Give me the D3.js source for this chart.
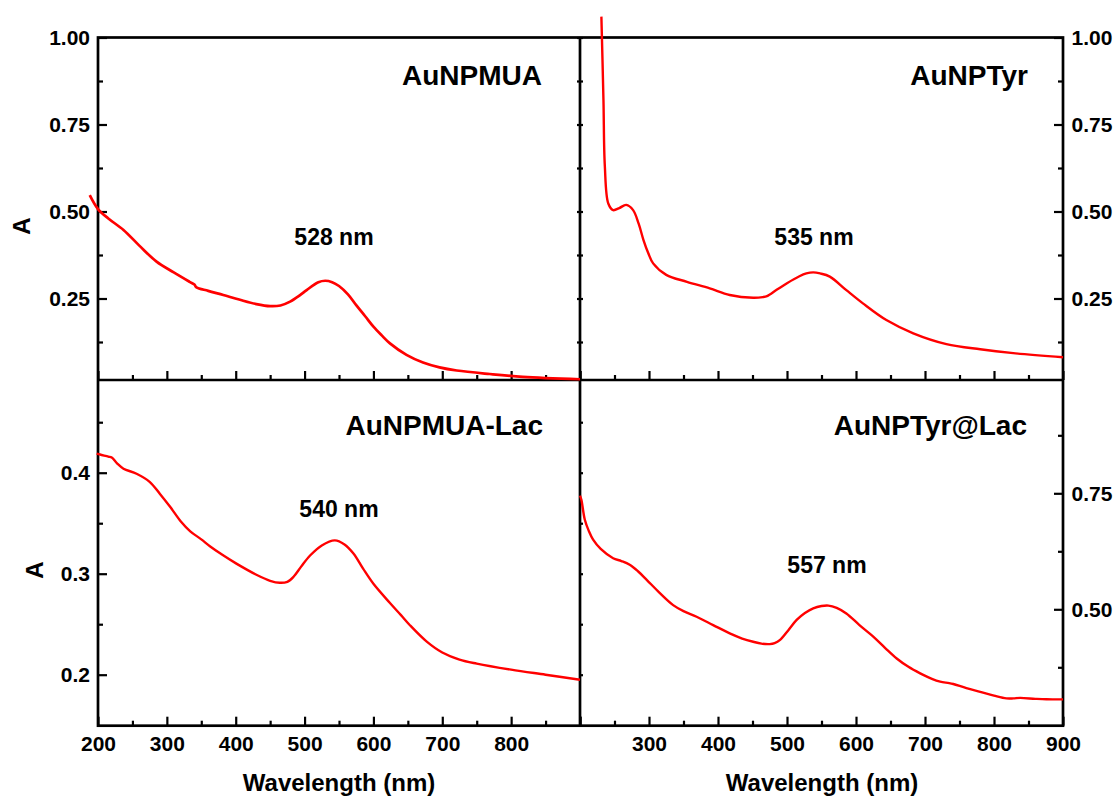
<!DOCTYPE html>
<html>
<head>
<meta charset="utf-8">
<script src="https://cdn.jsdelivr.net/npm/d3@7"></script>
<style>
  html, body { margin: 0; padding: 0; background: #fff; }
  svg { display: block; }
  text { font-family: "Liberation Sans", Arial, sans-serif; font-weight: bold; fill: #000; }
</style>
</head>
<body>
<svg id="chart" width="1120" height="800"></svg>
<script>
// ---------------- data ----------------
const panelTitles = ["AuNPMUA", "AuNPTyr", "AuNPMUA-Lac", "AuNPTyr@Lac"];
const peakLabels = ["528 nm", "535 nm", "540 nm", "557 nm"];

const muaWl = [188,200,215,237,260,285,310,333,340,343,360,382,405,430,450,465,479,493,503,520,530,540,550,563,575,588,600,612,624,648,672,696,721,769,817,900];
const muaA  = [0.547,0.507,0.480,0.447,0.402,0.356,0.325,0.298,0.290,0.282,0.272,0.260,0.247,0.234,0.228,0.230,0.241,0.259,0.274,0.297,0.301,0.297,0.286,0.262,0.231,0.199,0.169,0.144,0.121,0.088,0.066,0.052,0.043,0.033,0.025,0.018];

const tyrWl = [231,234,236,241,248,257,267,277,285,292,299,306,325,355,388,417,451,465,471,485,500,518,528,538,548,562,586,610,644,683,731,780,828,900];
const tyrA  = [1.06,0.82,0.63,0.523,0.504,0.510,0.519,0.504,0.465,0.418,0.380,0.351,0.318,0.298,0.279,0.260,0.252,0.254,0.257,0.275,0.294,0.314,0.322,0.325,0.322,0.313,0.274,0.236,0.188,0.150,0.119,0.104,0.093,0.081];

const muaLacWl = [198,203,215,220,228,237,256,275,290,305,320,334,350,363,380,401,430,450,464,475,484,495,508,525,544,558,571,585,600,624,640,653,677,700,725,750,800,850,900];
const muaLacA  = [0.419,0.418,0.416,0.415,0.409,0.404,0.399,0.391,0.379,0.366,0.352,0.342,0.334,0.327,0.319,0.310,0.299,0.293,0.291,0.292,0.297,0.307,0.318,0.328,0.333,0.329,0.320,0.305,0.290,0.271,0.259,0.249,0.233,0.222,0.215,0.211,0.205,0.200,0.195];

const tyrLacWl = [200,202,207,213,219,230,248,260,272,284,297,315,335,350,369,393,417,435,451,463,475,482,490,502,514,526,538,550,560,572,586,605,625,642,659,676,693,710,722,735,741,760,780,800,818,828,838,860,876,900];
const tyrLacA  = [0.745,0.736,0.693,0.668,0.650,0.630,0.610,0.604,0.596,0.582,0.563,0.536,0.509,0.496,0.484,0.466,0.448,0.437,0.430,0.426,0.425,0.427,0.434,0.455,0.477,0.492,0.502,0.507,0.508,0.503,0.491,0.466,0.441,0.417,0.394,0.376,0.362,0.350,0.344,0.341,0.339,0.330,0.322,0.314,0.308,0.308,0.309,0.307,0.306,0.306];

const xMajorTicks = [200,300,400,500,600,700,800,900];
const xMinorTicks = [250,350,450,550,650,750,850];
const topMajorTicks = [0.25,0.50,0.75,1.00];
const topMinorTicks = [0.125,0.375,0.625,0.875];
const blMajorTicks = [0.2,0.3,0.4];
const blMinorTicks = [0.25,0.35,0.45];
const brMajorTicks = [0.50,0.75];
const brMinorTicks = [0.375,0.625,0.875];
const blLabelsX = [200,300,400,500,600,700,800];
const brLabelsX = [300,400,500,600,700,800,900];

// ---------------- layout ----------------
const svg = d3.select("#chart");
const L0 = 98, MID = 580, R1 = 1063;
const T0 = 37.5, HMID = 380, B1 = 725.7;
const RED = "#ff0000";
const AXW = 2.7;

const xLeft = d3.scaleLinear().domain([200, 900]).range([L0, MID]);
const xRight = d3.scaleLinear().domain([200, 900]).range([MID, R1]);
const yTop = d3.scaleLinear().domain([0.0158, 1.0]).range([HMID, T0]);
const yBL = d3.scaleLinear().domain([0.1495, 0.4918]).range([B1, HMID]);
const yBR = d3.scaleLinear().domain([0.2491, 0.9942]).range([B1, HMID]);

const panels = [
  {x: xLeft,  y: yTop, wl: muaWl,    a: muaA,    title: panelTitles[0], peak: peakLabels[0], tx: 542,  ty: 85,  px: 334, py: 245, sw: 2.7},
  {x: xRight, y: yTop, wl: tyrWl,    a: tyrA,    title: panelTitles[1], peak: peakLabels[1], tx: 1028, ty: 85,  px: 814, py: 245, sw: 2.4},
  {x: xLeft,  y: yBL,  wl: muaLacWl, a: muaLacA, title: panelTitles[2], peak: peakLabels[2], tx: 543,  ty: 435, px: 339, py: 516.5, sw: 2.4},
  {x: xRight, y: yBR,  wl: tyrLacWl, a: tyrLacA, title: panelTitles[3], peak: peakLabels[3], tx: 1027, ty: 435, px: 827, py: 573, sw: 2.4}
];

function styleAxis(g) {
  g.select(".domain").remove();
  g.selectAll(".tick line").attr("stroke", "#000").attr("stroke-width", 2.2);
  g.selectAll(".tick text").style("font-size", "21px").style("font-family", '"Liberation Sans", Arial, sans-serif').style("font-weight", "bold").attr("fill", "#000");
}

function addAxis(axisFn, scale, values, size, fmt, transform, pad) {
  const ax = axisFn(scale).tickValues(values).tickSizeInner(size).tickSizeOuter(0).tickPadding(pad || 8)
    .tickFormat(fmt || (() => ""));
  svg.append("g").attr("transform", transform).call(ax).call(styleAxis);
}

// x axes: ticks on horizontal divider (top panels) and on bottom
[xLeft, xRight].forEach((xs, i) => {
  addAxis(d3.axisBottom, xs, xMajorTicks, -9, null, `translate(0,${HMID})`);
  addAxis(d3.axisBottom, xs, xMinorTicks, -5, null, `translate(0,${HMID})`);
  const labels = i === 0 ? blLabelsX : brLabelsX;
  addAxis(d3.axisBottom, xs, xMajorTicks, -9, d => labels.includes(d) ? d3.format("d")(d) : "", `translate(0,${B1})`, 10);
  addAxis(d3.axisBottom, xs, xMinorTicks, -5, null, `translate(0,${B1})`);
});

// y axes top-left (labels left), top-right (labels right)
addAxis(d3.axisLeft, yTop, topMajorTicks, -9, d3.format(".2f"), `translate(${L0},0)`, 8);
addAxis(d3.axisLeft, yTop, topMinorTicks, -5, null, `translate(${L0},0)`);
addAxis(d3.axisRight, yTop, topMajorTicks, -9, d3.format(".2f"), `translate(${R1},0)`, 8.5);
addAxis(d3.axisRight, yTop, topMinorTicks, -5, null, `translate(${R1},0)`);
// small ticks on the middle divider for top panels
addAxis(d3.axisLeft, yTop, topMajorTicks.concat(topMinorTicks), -3, null, `translate(${MID},0)`);
addAxis(d3.axisRight, yTop, topMajorTicks.concat(topMinorTicks), -3, null, `translate(${MID},0)`);

// bottom-left y axis
addAxis(d3.axisLeft, yBL, blMajorTicks, -9, d3.format(".1f"), `translate(${L0},0)`, 8);
addAxis(d3.axisLeft, yBL, blMinorTicks, -5, null, `translate(${L0},0)`);
addAxis(d3.axisLeft, yBL, blMajorTicks.concat(blMinorTicks), -3, null, `translate(${MID},0)`);
// bottom-right y axis
addAxis(d3.axisRight, yBR, brMajorTicks, -9, d3.format(".2f"), `translate(${R1},0)`, 8.5);
addAxis(d3.axisRight, yBR, brMinorTicks, -5, null, `translate(${R1},0)`);

// frame lines
const frame = svg.append("g").attr("stroke", "#000").attr("stroke-width", AXW).attr("fill", "none");
frame.append("rect").attr("x", L0).attr("y", T0).attr("width", R1 - L0).attr("height", B1 - T0);
frame.append("line").attr("x1", L0).attr("x2", R1).attr("y1", HMID).attr("y2", HMID);
frame.append("line").attr("x1", MID).attr("x2", MID).attr("y1", T0).attr("y2", B1);

// curves
panels.forEach(p => {
  const pts = p.wl.map((w, i) => [w, p.a[i]]);
  const line = d3.line().x(d => p.x(d[0])).y(d => p.y(d[1])).curve(d3.curveCatmullRom.alpha(0.5));
  svg.append("path").datum(pts).attr("d", line)
    .attr("fill", "none").attr("stroke", RED).attr("stroke-width", p.sw).attr("stroke-linejoin", "round");
  svg.append("text").attr("x", p.tx).attr("y", p.ty).attr("text-anchor", "end")
    .style("font-size", "28px").text(p.title);
  svg.append("text").attr("x", p.px).attr("y", p.py).attr("text-anchor", "middle")
    .style("font-size", "23px").text(p.peak);
});

// axis titles
svg.append("text").attr("transform", "translate(30,226) rotate(-90)").attr("text-anchor", "middle").style("font-size", "24px").text("A");
svg.append("text").attr("transform", "translate(43,570) rotate(-90)").attr("text-anchor", "middle").style("font-size", "24px").text("A");
svg.append("text").attr("x", 339).attr("y", 791).attr("text-anchor", "middle").style("font-size", "24px").text("Wavelength (nm)");
svg.append("text").attr("x", 822).attr("y", 791).attr("text-anchor", "middle").style("font-size", "24px").text("Wavelength (nm)");
</script>
</body>
</html>
